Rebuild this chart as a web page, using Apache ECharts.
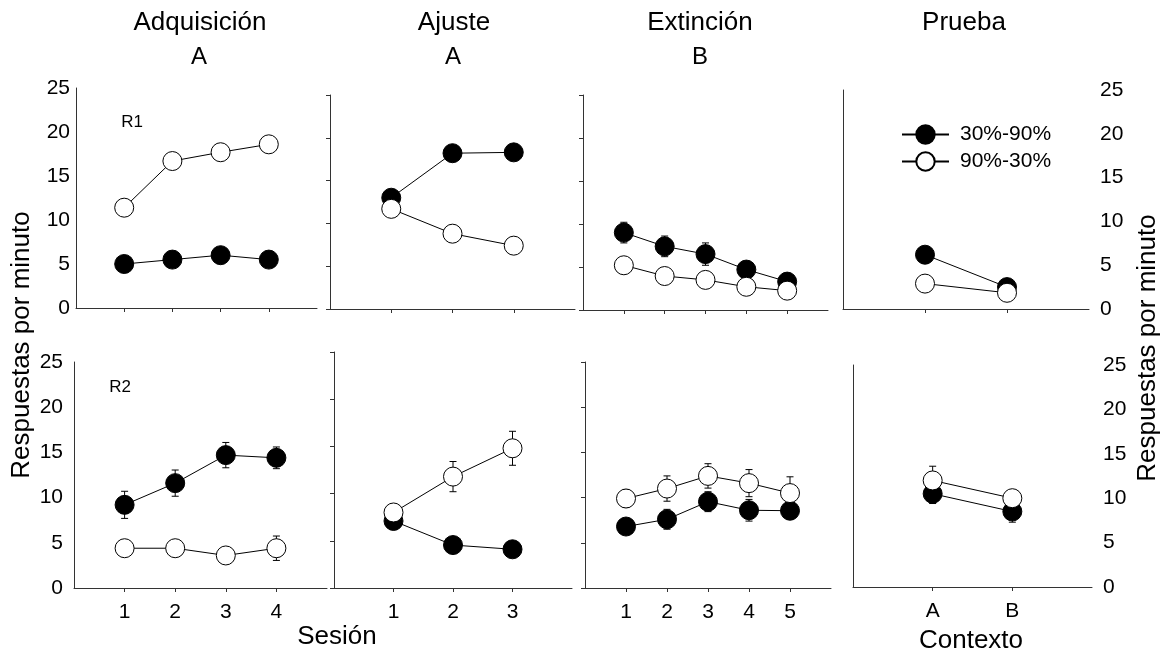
<!DOCTYPE html>
<html>
<head>
<meta charset="utf-8">
<script src="https://cdn.jsdelivr.net/npm/echarts@6/dist/echarts.min.js"></script>
<style>
  html, body { margin: 0; padding: 0; background: #fff; }
  #main { width: 1164px; height: 657px; }
</style>
</head>
<body>
<div id="main"></div>
<script>
// ---- data ----
var sessAcq = [1, 2, 3, 4];
var sessAju = [1, 2, 3];
var sessExt = [1, 2, 3, 4, 5];
var ctxPru = [1, 2];
var ctxLabels = ['A', 'B'];
var yTicks = [0, 5, 10, 15, 20, 25];

// R1 (top row)
var acqR1Filled = [5.0, 5.5, 6.0, 5.5];
var acqR1FilledErr = [0.3, 0.3, 0.3, 0.3];
var acqR1Open = [11.4, 16.7, 17.7, 18.6];
var acqR1OpenErr = [0.4, 0.5, 0.4, 0.5];
var ajuR1Filled = [13.0, 18.2, 18.3];
var ajuR1FilledErr = [0.4, 0.4, 0.4];
var ajuR1Open = [11.7, 8.8, 7.4];
var ajuR1OpenErr = [0.4, 0.4, 0.4];
var extR1Filled = [9.0, 7.4, 6.5, 4.7, 3.3];
var extR1FilledErr = [1.2, 1.2, 1.3, 0.7, 0.5];
var extR1Open = [5.2, 3.95, 3.5, 2.7, 2.25];
var extR1OpenErr = [0.4, 0.4, 0.4, 0.3, 0.3];
var pruR1Filled = [6.2, 2.5];
var pruR1FilledErr = [0.4, 0.3];
var pruR1Open = [2.9, 1.85];
var pruR1OpenErr = [0.3, 0.3];

// R2 (bottom row)
var acqR2Filled = [9.2, 11.6, 14.7, 14.4];
var acqR2FilledErr = [1.5, 1.45, 1.4, 1.2];
var acqR2Open = [4.4, 4.4, 3.6, 4.4];
var acqR2OpenErr = [0.4, 0.4, 0.3, 1.35];
var ajuR2Filled = [7.1, 4.55, 4.1];
var ajuR2FilledErr = [0.5, 0.4, 0.4];
var ajuR2Open = [8.0, 11.8, 14.8];
var ajuR2OpenErr = [0.4, 1.6, 1.8];
var extR2Filled = [6.8, 7.6, 9.55, 8.6, 8.55];
var extR2FilledErr = [0.5, 1.1, 1.1, 1.2, 0.5];
var extR2Open = [9.9, 11.0, 12.4, 11.6, 10.5];
var extR2OpenErr = [1.0, 1.4, 1.35, 1.5, 1.8];
var pruR2Filled = [10.5, 8.5];
var pruR2FilledErr = [1.1, 1.2];
var pruR2Open = [12.0, 10.0];
var pruR2OpenErr = [1.6, 0.5];

var FONT = '"Liberation Sans", Arial, sans-serif';

// one entry per panel: layout + which arrays it draws
var panels = [
  {x: sessAcq, f: acqR1Filled, fe: acqR1FilledErr, o: acqR1Open, oe: acqR1OpenErr, box: [76, 88, 241, 220], yLab: 'left', lm: 6, bottom: false, ytick: false},
  {x: sessAju, f: ajuR1Filled, fe: ajuR1FilledErr, o: ajuR1Open, oe: ajuR1OpenErr, box: [330, 95, 245, 214], yLab: 'none', bottom: false, ytick: true},
  {x: sessExt, f: extR1Filled, fe: extR1FilledErr, o: extR1Open, oe: extR1OpenErr, box: [583, 95, 245, 215], yLab: 'none', bottom: false, ytick: true},
  {x: ctxPru, f: pruR1Filled, fe: pruR1FilledErr, o: pruR1Open, oe: pruR1OpenErr, box: [843, 90, 246, 219], yLab: 'right', lm: 11, bottom: false, ytick: false, ctx: true},
  {x: sessAcq, f: acqR2Filled, fe: acqR2FilledErr, o: acqR2Open, oe: acqR2OpenErr, box: [74, 362, 253, 226], yLab: 'left', lm: 11, bottom: true, ytick: false},
  {x: sessAju, f: ajuR2Filled, fe: ajuR2FilledErr, o: ajuR2Open, oe: ajuR2OpenErr, box: [334, 352, 238, 236], yLab: 'none', bottom: true, ytick: true},
  {x: sessExt, f: extR2Filled, fe: extR2FilledErr, o: extR2Open, oe: extR2OpenErr, box: [585, 362, 246, 226], yLab: 'none', bottom: true, ytick: true},
  {x: ctxPru, f: pruR2Filled, fe: pruR2FilledErr, o: pruR2Open, oe: pruR2OpenErr, box: [853, 365, 239, 222], yLab: 'right', lm: 11, bottom: true, ytick: false, ctx: true}
];

function pairs(xs, ys) {
  var out = [];
  for (var i = 0; i < xs.length; i++) out.push([xs[i], ys[i]]);
  return out;
}
function errRows(xs, ys, es) {
  var out = [];
  for (var i = 0; i < xs.length; i++) out.push([xs[i], ys[i] - es[i], ys[i] + es[i]]);
  return out;
}
function renderErr(params, api) {
  var x = api.value(0);
  var top = api.coord([x, api.value(2)]);
  var bot = api.coord([x, api.value(1)]);
  var w = 3.5;
  var st = {stroke: '#000', lineWidth: 1};
  return {
    type: 'group',
    children: [
      {type: 'line', shape: {x1: top[0], y1: top[1], x2: bot[0], y2: bot[1]}, style: st},
      {type: 'line', shape: {x1: top[0] - w, y1: top[1], x2: top[0] + w, y2: top[1]}, style: st},
      {type: 'line', shape: {x1: bot[0] - w, y1: bot[1], x2: bot[0] + w, y2: bot[1]}, style: st}
    ]
  };
}

var grids = [], xAxes = [], yAxes = [], series = [];
var axisColor = '#333';

panels.forEach(function (p, i) {
  grids.push({left: p.box[0], top: p.box[1], width: p.box[2], height: p.box[3]});
  xAxes.push({
    gridIndex: i, type: 'value', min: 0, max: p.x.length + 1, interval: 1,
    axisLine: {show: true, onZero: false, lineStyle: {color: axisColor, width: 1}},
    axisTick: {show: true, length: 4, customValues: p.x, lineStyle: {color: axisColor}},
    axisLabel: {
      show: p.bottom, customValues: p.x, margin: 14,
      fontSize: 21, color: '#000', fontFamily: FONT,
      formatter: function (v) { return p.ctx ? ctxLabels[v - 1] : String(v); }
    },
    splitLine: {show: false}
  });
  yAxes.push({
    gridIndex: i, type: 'value', min: 0, max: 25, interval: 5,
    position: p.yLab === 'right' ? 'right' : 'left',
    axisLine: {show: true, lineStyle: {color: axisColor, width: 1}},
    axisTick: {show: p.ytick, length: 4, lineStyle: {color: axisColor}},
    axisLabel: {
      show: p.yLab !== 'none', margin: p.lm || 8,
      customValues: yTicks,
      fontSize: 21, color: '#000', fontFamily: FONT
    },
    splitLine: {show: false}
  });
  series.push({
    type: 'custom', xAxisIndex: i, yAxisIndex: i, z: 1, silent: true,
    renderItem: renderErr, data: errRows(p.x, p.f, p.fe)
  });
  series.push({
    type: 'custom', xAxisIndex: i, yAxisIndex: i, z: 1, silent: true,
    renderItem: renderErr, data: errRows(p.x, p.o, p.oe)
  });
  series.push({
    name: '30%-90%', type: 'line', xAxisIndex: i, yAxisIndex: i, z: 3,
    symbol: 'circle', symbolSize: 19,
    itemStyle: {color: '#000', borderColor: '#000', borderWidth: 1},
    lineStyle: {color: '#000', width: 1},
    data: pairs(p.x, p.f)
  });
  series.push({
    name: '90%-30%', type: 'line', xAxisIndex: i, yAxisIndex: i, z: 4,
    symbol: 'circle', symbolSize: 19,
    itemStyle: {color: '#fff', borderColor: '#000', borderWidth: 1},
    lineStyle: {color: '#000', width: 1},
    data: pairs(p.x, p.o)
  });
});

function txt(x, y, s, size, rot) {
  return {
    type: 'text', x: x, y: y, rotation: rot || 0, silent: true,
    style: {text: s, fontSize: size, fontFamily: FONT, fill: '#000', align: 'center', verticalAlign: 'middle'}
  };
}

var option = {
  animation: false,
  backgroundColor: '#fff',
  grid: grids,
  xAxis: xAxes,
  yAxis: yAxes,
  series: series,
  legend: {
    data: ['30%-90%', '90%-30%'],
    orient: 'vertical', left: 896, top: 119,
    itemWidth: 47, itemHeight: 23, itemGap: 6,
    selectedMode: false,
    textStyle: {fontSize: 21, color: '#000', fontFamily: FONT, padding: [0, 0, 0, 6]}
  },
  graphic: [
    txt(200, 23, 'Adquisición', 26),
    txt(199, 57, 'A', 24),
    txt(454, 23, 'Ajuste', 26),
    txt(453, 57, 'A', 24),
    txt(700, 23, 'Extinción', 26),
    txt(700, 57, 'B', 24),
    txt(964, 23, 'Prueba', 26),
    txt(132, 122, 'R1', 17),
    txt(120, 387, 'R2', 17),
    txt(337, 637, 'Sesión', 26),
    txt(971, 641, 'Contexto', 26),
    txt(22, 345, 'Respuestas por minuto', 26, Math.PI / 2),
    txt(1148, 348, 'Respuestas por minuto', 26, Math.PI / 2)
  ]
};

var chart = echarts.init(document.getElementById('main'));
chart.setOption(option);
</script>
</body>
</html>
